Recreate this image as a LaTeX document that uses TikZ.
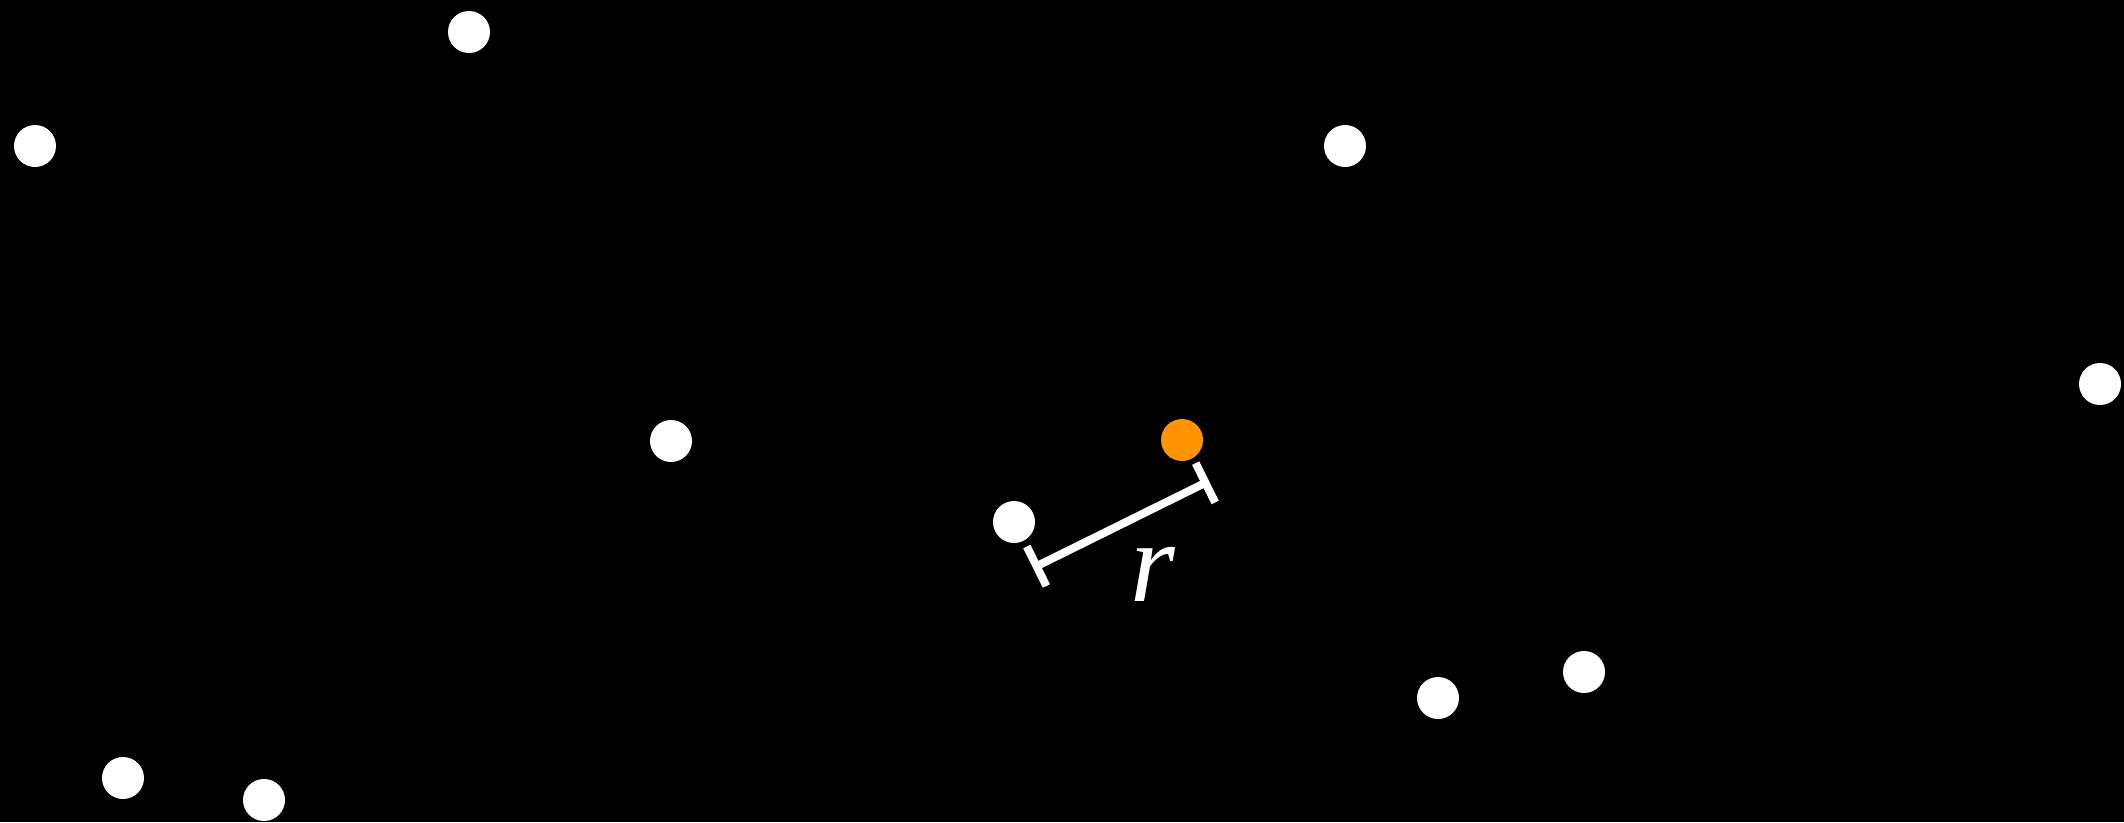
\documentclass[tikz,border=0pt]{standalone}
\usepackage{fontspec}
\setmainfont{Liberation Serif}
\usetikzlibrary{arrows.meta}
\begin{document}
\begin{tikzpicture}[x=1pt,y=-1pt,
  dot/.style={circle,fill=white,draw=none,minimum size=42pt,inner sep=0pt},
  odot/.style={dot,fill=orange1},
  rbar/.style={white,line width=8pt,{Bar[width=44pt,line width=8pt]}-{Bar[width=44pt,line width=8pt]}}]
\definecolor{orange1}{HTML}{FF9400}
\fill[black] (0,0) rectangle (2124,822);
\useasboundingbox (0,0) rectangle (2124,822);
\node[dot] (p1) at (469,32) {};
\node[dot] (p2) at (35,146) {};
\node[dot] (p3) at (1345,146) {};
\node[dot] (p4) at (2100,384) {};
\node[dot] (p5) at (671,441) {};
\node[odot] (p6) at (1182,440) {};
\node[dot] (p7) at (1014,522) {};
\node[dot] (p8) at (1438,698) {};
\node[dot] (p9) at (1584,672) {};
\node[dot] (p10) at (123,778) {};
\node[dot] (p11) at (264,800) {};
\coordinate (ba) at (1033,568);
\coordinate (bb) at (1209,481);
\draw[rbar] (ba) -- (bb);
\node[text=white,inner sep=0pt,font=\fontsize{115}{120}\selectfont\itshape] (r) at (1153,574) {r};
\end{tikzpicture}
\end{document}
